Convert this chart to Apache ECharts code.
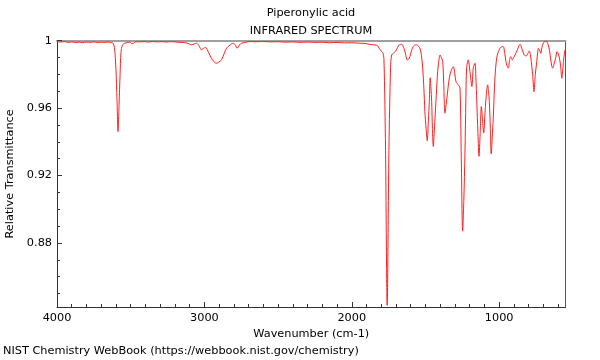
<!DOCTYPE html>
<html>
<head>
<meta charset="utf-8">
<script src="https://cdn.jsdelivr.net/npm/echarts@6/dist/echarts.min.js"></script>
<style>html,body{margin:0;padding:0;background:#fff;}#c{width:600px;height:360px;}</style>
</head>
<body>
<div id="c"></div>
<script>
var wavenumbers = [4000,3975,3950,3925,3900,3875,3850,3825,3800,3775,3750,3725,3700,3675,3650,3630,3620,3610,3600,3593,3586,3579,3572,3566,3556,3540,3520,3505,3493,3479,3466,3440,3410,3380,3350,3320,3290,3260,3230,3200,3170,3130,3105,3088,3070,3054,3035,3020,3005,2991,2972,2952,2935,2918,2900,2884,2865,2850,2825,2805,2790,2778,2762,2748,2720,2692,2650,2600,2550,2500,2450,2400,2350,2300,2250,2200,2150,2100,2050,2000,1950,1910,1877,1843,1825,1814,1800,1791,1782,1771,1760,1748,1737,1730,1719,1701,1690,1678,1662,1646,1635,1624,1615,1606,1595,1583,1570,1560,1538,1527,1519,1511,1504,1496,1488,1480,1474,1468,1463,1458,1453,1447,1440,1434,1429,1420,1413,1401,1392,1383,1376,1368,1360,1352,1343,1334,1322,1311,1302,1293,1285,1277,1266,1257,1248,1240,1232,1226,1221,1210,1204,1198,1185,1176,1164,1158,1152,1144,1137,1129,1121,1113,1105,1097,1089,1078,1072,1067,1060,1054,1047,1040,1032,1024,1013,995,984,972,963,954,946,938,930,922,916,911,902,893,877,866,859,852,845,832,822,813,805,796,789,782,773,764,755,745,739,734,726,718,710,701,692,682,675,667,658,650,643,637,628,620,613,608,600,591,583,575,569,564,558,553,550];
var transmittance = [0.9996,0.9992,0.9995,0.9990,0.9993,0.9989,0.9992,0.9988,0.9992,0.9990,0.9993,0.9989,0.9991,0.9990,0.9992,0.9988,0.9985,0.9960,0.9830,0.9650,0.9460,0.9620,0.9800,0.9930,0.9975,0.9985,0.9990,0.9992,0.9982,0.9986,0.9994,0.9993,0.9995,0.9992,0.9995,0.9993,0.9995,0.9992,0.9994,0.9993,0.9990,0.9988,0.9982,0.9975,0.9980,0.9985,0.9968,0.9945,0.9955,0.9960,0.9930,0.9896,0.9875,0.9866,0.9875,0.9886,0.9925,0.9955,0.9975,0.9985,0.9975,0.9955,0.9975,0.9985,0.9990,0.9995,0.9994,0.9995,0.9993,0.9994,0.9991,0.9993,0.9990,0.9992,0.9990,0.9991,0.9988,0.9990,0.9987,0.9988,0.9985,0.9984,0.9978,0.9975,0.9970,0.9955,0.9938,0.9931,0.9896,0.9350,0.8430,0.9350,0.9840,0.9915,0.9925,0.9939,0.9960,0.9975,0.9979,0.9955,0.9920,0.9886,0.9890,0.9905,0.9940,0.9965,0.9975,0.9975,0.9955,0.9910,0.9837,0.9720,0.9580,0.9480,0.9407,0.9530,0.9640,0.9780,0.9720,0.9640,0.9480,0.9373,0.9470,0.9560,0.9640,0.9780,0.9856,0.9915,0.9900,0.9876,0.9740,0.9570,0.9620,0.9679,0.9750,0.9797,0.9830,0.9846,0.9810,0.9757,0.9745,0.9738,0.9720,0.9300,0.8870,0.9050,0.9340,0.9650,0.9837,0.9886,0.9860,0.9817,0.9728,0.9837,0.9866,0.9780,0.9640,0.9450,0.9314,0.9450,0.9610,0.9530,0.9452,0.9560,0.9660,0.9738,0.9700,0.9640,0.9480,0.9328,0.9430,0.9540,0.9720,0.9837,0.9915,0.9955,0.9963,0.9965,0.9930,0.9876,0.9850,0.9837,0.9880,0.9905,0.9895,0.9886,0.9900,0.9915,0.9945,0.9970,0.9979,0.9970,0.9950,0.9919,0.9910,0.9911,0.9925,0.9939,0.9920,0.9876,0.9800,0.9698,0.9800,0.9876,0.9930,0.9955,0.9945,0.9925,0.9960,0.9985,0.9995,0.9998,0.9992,0.9975,0.9940,0.9886,0.9850,0.9837,0.9860,0.9886,0.9915,0.9935,0.9925,0.9896,0.9850,0.9777,0.9820,0.9876,0.9920,0.9945,0.9950];
var xMajorTicks = [1000,2000,3000,4000];
var xMinorTicks = [600,700,800,900,1100,1200,1300,1400,1500,1600,1700,1800,1900,2100,2200,2300,2400,2500,2600,2700,2800,2900,3100,3200,3300,3400,3500,3600,3700,3800,3900];
var yMajorTicks = [0.88,0.92,0.96,1];
var yMinorTicks = [0.85,0.86,0.87,0.89,0.90,0.91,0.93,0.94,0.95,0.97,0.98,0.99];

var X_MIN = 550, X_MAX = 4000, Y_MIN = 0.842, Y_MAX = 1;
var FONT = 'DejaVu Sans';
var FS = 11.3;
var pts = wavenumbers.map(function(w,i){return [w, transmittance[i]];});

var chart = echarts.init(document.getElementById('c'), null, {renderer:'canvas'});
function xAx(extra){
  return Object.assign({type:'value', inverse:true, min:X_MIN, max:X_MAX, splitLine:{show:false}}, extra);
}
function yAx(extra){
  return Object.assign({type:'value', min:Y_MIN, max:Y_MAX, splitLine:{show:false}}, extra);
}
chart.setOption({
  animation:false,
  backgroundColor:'#fff',
  textStyle:{fontFamily:FONT},
  title:[
    {text:'Piperonylic acid\nINFRARED SPECTRUM', left:311, top:4, padding:0, textAlign:'center',
     textStyle:{fontSize:FS, fontWeight:'normal', color:'#000', lineHeight:18, fontFamily:FONT}},
    {text:'NIST Chemistry WebBook (https://webbook.nist.gov/chemistry)', left:3, top:346, padding:0,
     textStyle:{fontSize:FS, fontWeight:'normal', color:'#000', fontFamily:FONT}}
  ],
  grid:{left:57, right:34.5, top:40.7, bottom:53, containLabel:false, outerBoundsMode:'none'},
  xAxis:[
    xAx({position:'bottom', name:'Wavenumber (cm-1)', nameLocation:'middle', nameGap:18,
      nameTextStyle:{fontSize:FS, color:'#000', fontFamily:FONT},
      axisLine:{show:true, lineStyle:{color:'#333', width:1}},
      axisTick:{show:true, inside:true, length:5, customValues:xMajorTicks, lineStyle:{color:'#333'}},
      axisLabel:{show:true, customValues:xMajorTicks, margin:6, fontSize:FS, color:'#000', fontFamily:FONT,
        formatter:function(v){return String(v);}}}),
    xAx({position:'bottom',
      axisLine:{show:false},
      axisTick:{show:true, inside:true, length:3, customValues:xMinorTicks, lineStyle:{color:'#333'}},
      axisLabel:{show:false}}),
    xAx({position:'top',
      axisLine:{show:true, lineStyle:{color:'#a0a0a0', width:2}},
      axisTick:{show:false}, axisLabel:{show:false}})
  ],
  yAxis:[
    yAx({position:'left', name:'Relative Transmittance', nameLocation:'middle', nameGap:40,
      nameTextStyle:{fontSize:FS, color:'#000', fontFamily:FONT},
      axisLine:{show:true, lineStyle:{color:'#333', width:1}},
      axisTick:{show:true, inside:true, length:5, customValues:yMajorTicks, lineStyle:{color:'#333'}},
      axisLabel:{show:true, customValues:yMajorTicks, margin:5, fontSize:FS, color:'#000', fontFamily:FONT,
        formatter:function(v){return String(v);}}}),
    yAx({position:'left',
      axisLine:{show:false},
      axisTick:{show:true, inside:true, length:3, customValues:yMinorTicks, lineStyle:{color:'#333'}},
      axisLabel:{show:false}}),
    yAx({position:'right',
      axisLine:{show:true, lineStyle:{color:'#555', width:1}},
      axisTick:{show:false}, axisLabel:{show:false}})
  ],
  series:[{
    type:'line', xAxisIndex:0, yAxisIndex:0, data:pts, showSymbol:false, smooth:0.3,
    lineStyle:{color:'#ff2020', width:1}, clip:true
  }]
});
</script>
</body>
</html>
